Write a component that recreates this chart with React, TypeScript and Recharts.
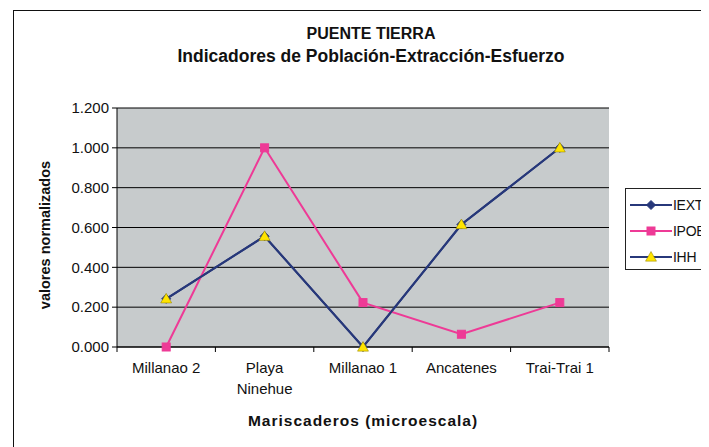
import React from 'react';
import { LineChart, Line, XAxis, YAxis, CartesianGrid } from 'recharts';

const categories = ['Millanao 2', 'Playa\nNinehue', 'Millanao 1', 'Ancatenes', 'Trai-Trai 1'];
const iext = [0.242, 0.556, 0.0, 0.615, 1.0];
const ipob = [0.0, 1.0, 0.223, 0.064, 0.223];
const ihh = [0.242, 0.556, 0.0, 0.615, 1.0];
const yTicks = [0, 0.2, 0.4, 0.6, 0.8, 1.0, 1.2];

const data = categories.map((c, i) => ({ name: c, IEXT: iext[i], IPOB: ipob[i], IHH: ihh[i] }));

const FONT = '"Liberation Sans", Arial, sans-serif';
const NAVY = '#27387a';
const PINK = '#ee3a96';
const YELLOW = '#ffe400';

const CHART_W = 701;
const CHART_H = 439;
const M = { top: 100, right: 100, bottom: 70, left: 49 };
const Y_W = 60;
const BAND = (CHART_W - M.left - Y_W - M.right) / categories.length;
const TICK_GAP = 15;

const Diamond = (props: any) => {
  const { cx, cy } = props;
  if (cx == null || cy == null) return null;
  const r = 4.5;
  return <path d={`M${cx},${cy - r}L${cx + r},${cy}L${cx},${cy + r}L${cx - r},${cy}Z`} fill={NAVY} stroke={NAVY} />;
};
const Square = (props: any) => {
  const { cx, cy } = props;
  if (cx == null || cy == null) return null;
  const r = 4;
  return <rect x={cx - r} y={cy - r} width={2 * r} height={2 * r} fill={PINK} stroke={PINK} />;
};
const Triangle = (props: any) => {
  const { cx, cy } = props;
  if (cx == null || cy == null) return null;
  const r = 5.5;
  return <path d={`M${cx},${cy - r}L${cx + r},${cy + r * 0.75}L${cx - r},${cy + r * 0.75}Z`} fill={YELLOW} stroke="#8a7a00" strokeWidth={0.5} />;
};

const XTick = (props: any) => {
  const { x, y, payload, index } = props;
  const lines = String(payload.value).split('\n');
  const ay = y - TICK_GAP;
  return (
    <g>
      {index === 0 && <line x1={x - BAND / 2} y1={ay} x2={x - BAND / 2} y2={ay + 5} stroke="#000" />}
      <line x1={x + BAND / 2} y1={ay} x2={x + BAND / 2} y2={ay + 5} stroke="#000" />
      <text x={x} y={y} textAnchor="middle" fontFamily={FONT} fontSize={15} fill="#111">
        {lines.map((l, i) => (
          <tspan key={i} x={x} dy={i === 0 ? '0.71em' : 21}>{l}</tspan>
        ))}
      </text>
    </g>
  );
};

const series = [
  { key: 'IEXT', color: NAVY, Icon: 'diamond' },
  { key: 'IPOB', color: PINK, Icon: 'square' },
  { key: 'IHH', color: NAVY, Icon: 'triangle' },
];

const LegendBox = () => (
  <div style={{ position: 'absolute', left: 617, top: 180, border: '1px solid #222', background: '#fff', width: 100, height: 82, boxSizing: 'border-box', padding: '3px 0 0 3px', fontFamily: FONT, fontSize: 14, letterSpacing: -0.3 }}>
    {series.map((s) => (
      <div key={s.key} style={{ display: 'flex', alignItems: 'center', height: 26 }}>
        <svg width={44} height={14}>
          <line x1={1} y1={7} x2={43} y2={7} stroke={s.color} strokeWidth={2} />
          {s.Icon === 'diamond' && <Diamond cx={22} cy={7} />}
          {s.Icon === 'square' && <Square cx={22} cy={7} />}
          {s.Icon === 'triangle' && <Triangle cx={22} cy={7} />}
        </svg>
        <span style={{ marginLeft: 0, color: '#111' }}>{s.key}</span>
      </div>
    ))}
  </div>
);

export default function App() {
  return (
    <div style={{ position: 'relative', width: CHART_W, height: CHART_H, overflow: 'hidden', background: '#fff' }}>
      <div style={{ position: 'absolute', left: 5, top: 2, width: 760, height: 500, border: '1.5px solid #111', boxSizing: 'border-box' }} />
      <div style={{ position: 'absolute', left: 63, top: 15, width: 600, textAlign: 'center', fontFamily: FONT, fontWeight: 'bold', color: '#111' }}>
        <div style={{ fontSize: 16, lineHeight: '22px' }}>PUENTE TIERRA</div>
        <div style={{ fontSize: 17.5, lineHeight: '22px' }}>Indicadores de Población-Extracción-Esfuerzo</div>
      </div>
      <div style={{ position: 'absolute', left: 37 - 100, top: 227 - 10, width: 200, height: 20, lineHeight: '20px', textAlign: 'center', transform: 'rotate(-90deg)', fontFamily: FONT, fontWeight: 'bold', fontSize: 14.5, color: '#111' }}>
        valores normalizados
      </div>
      <div style={{ position: 'absolute', left: 109, top: 404, width: 492, textAlign: 'center', fontFamily: FONT, fontWeight: 'bold', fontSize: 15.5, letterSpacing: 1, color: '#111' }}>
        Mariscaderos (microescala)
      </div>
      <LineChart width={CHART_W} height={CHART_H} data={data} margin={M}>
        <CartesianGrid vertical={false} stroke="#000" strokeWidth={1} fill="#c7cbcc" />
        <XAxis dataKey="name" interval={0} tickLine={false} tickSize={0} tickMargin={TICK_GAP} tick={<XTick />} axisLine={{ stroke: '#000' }} height={30}
          padding={{ left: BAND / 2, right: BAND / 2 }} />
        <YAxis domain={[0, 1.2]} ticks={yTicks} width={Y_W} tickSize={5} tickMargin={3} axisLine={{ stroke: '#000' }} tickLine={{ stroke: '#000' }}
          tickFormatter={(v: number) => v.toFixed(3)} tick={{ fontFamily: FONT, fontSize: 15, fill: '#111' }} />
        <Line dataKey="IEXT" stroke={NAVY} strokeWidth={2} dot={<Diamond />} isAnimationActive={false} />
        <Line dataKey="IPOB" stroke={PINK} strokeWidth={2} dot={<Square />} isAnimationActive={false} />
        <Line dataKey="IHH" stroke={NAVY} strokeWidth={2} dot={<Triangle />} isAnimationActive={false} />
      </LineChart>
      <LegendBox />
    </div>
  );
}
